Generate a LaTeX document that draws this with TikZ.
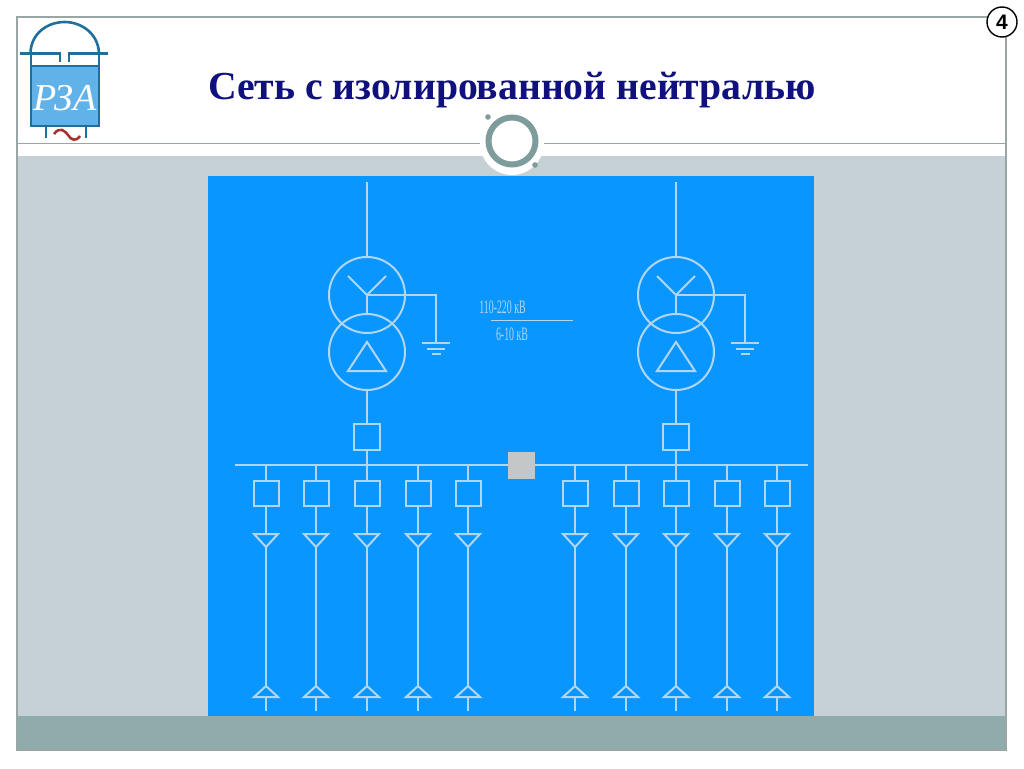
\documentclass[tikz,border=0pt]{standalone}
\usepackage{fontspec}
\setmainfont{Liberation Serif}
\newfontfamily\badgefont{Liberation Sans}
\usetikzlibrary{calc}
\definecolor{panelblue}{HTML}{0A96FF}
\definecolor{wirecol}{HTML}{B0D6F2}
\definecolor{bandgray}{HTML}{C5D1D5}
\definecolor{footteal}{HTML}{8FABAA}
\definecolor{framegray}{HTML}{9AA6A6}
\definecolor{titlenavy}{HTML}{10107E}
\definecolor{logoblue}{HTML}{1F6E9C}
\definecolor{logofill}{HTML}{62B2EA}
\definecolor{ringcol}{HTML}{7F9C9C}
\definecolor{wavered}{HTML}{A83232}
\definecolor{tiegray}{HTML}{C4C6C8}
\tikzset{
  wire/.style={draw=wirecol,line width=2pt},
  breaker/.style={draw=wirecol,line width=2pt,minimum size=25pt,inner sep=0pt,outer sep=0pt},
  winding/.style={draw=wirecol,line width=2pt,circle,minimum size=76pt,inner sep=0pt,outer sep=0pt},
  tie/.style={fill=tiegray,minimum size=27pt,inner sep=0pt,outer sep=0pt},
  logoline/.style={draw=logoblue,line width=2.6pt},
  voltage/.style={text=wirecol,font=\fontsize{19}{19}\selectfont,xscale=0.52,inner sep=0pt},
}
% feeder: #1 name, #2 x
\newcommand{\feeder}[2]{
  \coordinate (t#1) at (#2,465);
  \node[breaker] (b#1) at (#2,493.5) {};
  \coordinate (a#1) at (#2,534);
  \coordinate (c#1) at (#2,547);
  \coordinate (d#1) at (#2,686);
  \coordinate (e#1) at (#2,697);
  \coordinate (f#1) at (#2,711);
  \draw[wire] (t#1) -- (b#1);
  \draw[wire] (b#1) -- (a#1);
  \draw[wire,line join=miter] ($(a#1)+(-12,0)$) -- ($(a#1)+(12,0)$) -- (c#1) -- cycle;
  \draw[wire] (c#1) -- (d#1);
  \draw[wire,line join=miter] ($(e#1)+(-12,0)$) -- ($(e#1)+(12,0)$) -- (d#1) -- cycle;
  \draw[wire] (e#1) -- (f#1);
}
% transformer: #1 name, #2 x
\newcommand{\trafo}[2]{
  \coordinate (in#1) at (#2,182);
  \node[winding] (hv#1) at (#2,295) {};
  \node[winding] (lv#1) at (#2,352) {};
  \node[breaker,minimum size=26pt] (q#1) at (#2,436.5) {};
  \coordinate (bus#1) at (#2,465);
  \coordinate (ya#1) at ($(hv#1.center)+(-19,-19)$);
  \coordinate (yb#1) at ($(hv#1.center)+(19,-19)$);
  \coordinate (gc#1) at ($(hv#1.center)+(69,0)$);
  \coordinate (gd#1) at ($(hv#1.center)+(69,48)$);
  \draw[wire] (in#1) -- (hv#1);
  \draw[wire] (ya#1) -- (hv#1.center) -- (yb#1);
  \draw[wire] (hv#1.center) -- (lv#1.north);
  \draw[wire] (hv#1.center) -- (gc#1) -- (gd#1);
  \draw[wire] ($(gd#1)+(-14,0)$) -- ($(gd#1)+(14,0)$);
  \draw[wire] ($(gd#1)+(-9,5.5)$) -- ($(gd#1)+(9,5.5)$);
  \draw[wire] ($(gd#1)+(-4.5,10.5)$) -- ($(gd#1)+(4.5,10.5)$);
  \draw[wire,line join=miter] ($(lv#1.center)+(0,-10)$) -- ($(lv#1.center)+(19,19)$) -- ($(lv#1.center)+(-19,19)$) -- cycle;
  \draw[wire] (lv#1) -- (q#1);
  \draw[wire] (q#1) -- (bus#1);
}
\begin{document}
\begin{tikzpicture}[x=1pt,y=-1pt]
\useasboundingbox (0,0) rectangle (1024,768);
\fill[white] (0,0) rectangle (1024,768);
% slide background
\fill[bandgray] (17,156) rectangle (1006,716);
\fill[footteal] (17,716) rectangle (1006,750);
\draw[framegray,line width=1.1pt] (17,17) rectangle (1006,750);
\draw[framegray,line width=1pt] (17,143) -- (1006,143);
% ring ornament
\fill[white] (512,143) circle (32);
\draw[ringcol,line width=6pt] (512,141) circle (23.5);
\fill[ringcol] (488,117) circle (2.8);
\fill[ringcol] (535,165) circle (2.8);
% panel
\fill[panelblue] (208,176) rectangle (814,716);
% page badge
\node[draw=black,line width=1.4pt,fill=white,circle,minimum size=30pt,inner sep=0pt,font=\badgefont\bfseries\fontsize{21}{21}\selectfont] (badge) at (1002,22) {4};
% title
\node[text=titlenavy,font=\bfseries\fontsize{39.7}{40}\selectfont,inner sep=0pt] (title) at (512,90) {Сеть с изолированной нейтралью};
% logo
\fill[logofill] (31,66) rectangle (99,126);
\draw[logoline] (31,66) rectangle (99,126);
\draw[logoline] (30.5,53) .. controls (31,33) and (48,22) .. (64.5,22) .. controls (81,22) and (98,33) .. (99,53);
\draw[logoline] (20,53.5) -- (60,53.5) -- (60,62);
\draw[logoline] (108,53.5) -- (69,53.5) -- (69,62);
\draw[logoline] (31,53) -- (31,66);
\draw[logoline] (99,53) -- (99,66);
\draw[logoline] (46,126) -- (46,138);
\draw[logoline] (86,126) -- (86,138);
\draw[wavered,line width=2.6pt] (54,134) .. controls (60,126) and (65,131) .. (68,135) .. controls (71,140) and (76,142) .. (80,136);
\node[text=white,font=\itshape\fontsize{38}{38}\selectfont,inner sep=0pt] (rza) at (65,98) {РЗА};
% bus
\coordinate (busl) at (235,465);
\coordinate (busr) at (808,465);
\draw[wire] (busl) -- (busr);
\node[tie] (tie) at (521.5,465.5) {};
% transformers
\trafo{A}{367}
\trafo{B}{676}
% feeders
\feeder{1}{266}
\feeder{2}{316}
\feeder{3}{367}
\feeder{4}{418}
\feeder{5}{468}
\feeder{6}{575}
\feeder{7}{626}
\feeder{8}{676}
\feeder{9}{727}
\feeder{10}{777}
% voltage label
\node[voltage] (vh) at (502.5,307) {110-220 кВ};
\node[voltage] (vl) at (512,334.5) {6-10 кВ};
\coordinate (rl) at (491,320.5);
\coordinate (rr) at (573,320.5);
\draw[draw=wirecol,line width=0.7pt] (rl) -- (rr);
\end{tikzpicture}
\end{document}
